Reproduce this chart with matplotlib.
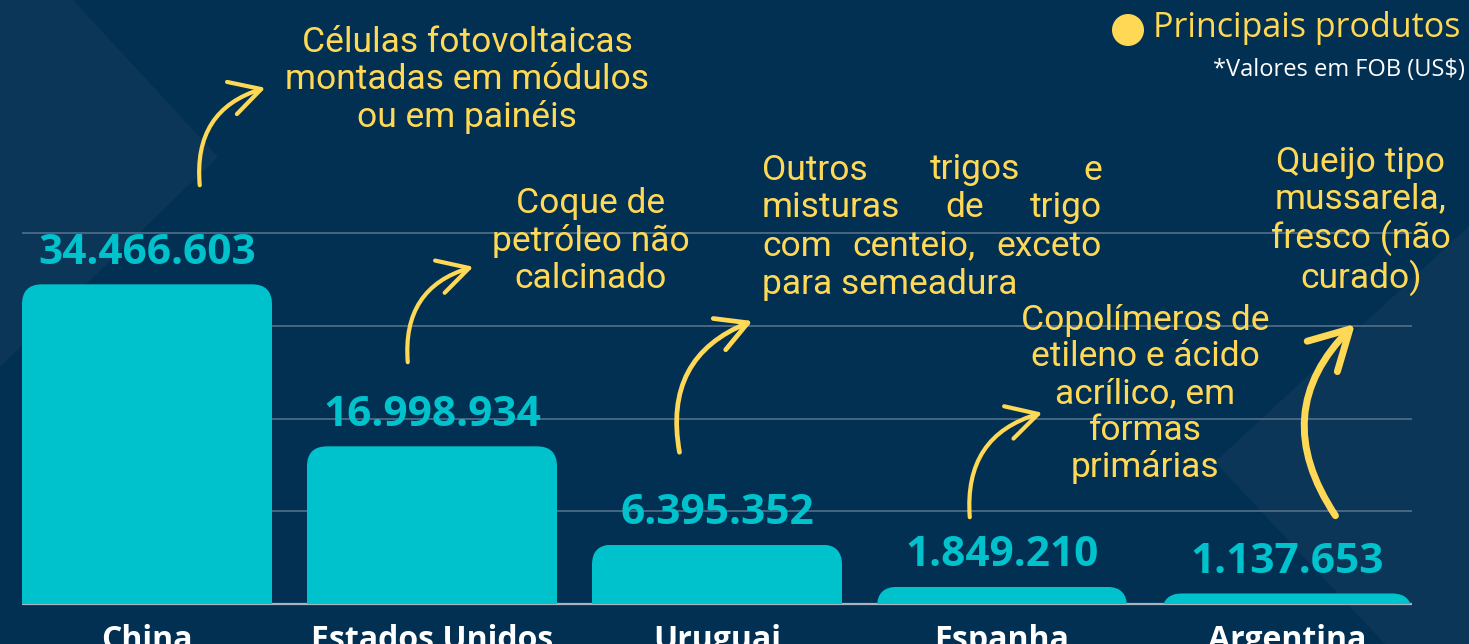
import matplotlib
matplotlib.use('Agg')
import matplotlib.pyplot as plt
from matplotlib.patches import FancyBboxPatch, Rectangle, Polygon, Circle, FancyArrowPatch

# Dados
paises = ['China', 'Estados Unidos', 'Uruguai', 'Espanha', 'Argentina']
valores = [34466603, 16998934, 6395352, 1849210, 1137653]
rotulos = ['34.466.603', '16.998.934', '6.395.352', '1.849.210', '1.137.653']
produtos = [
    'Células fotovoltaicas\nmontadas em módulos\nou em painéis',
    'Coque de\npetróleo não\ncalcinado',
    'Outros trigos e\nmisturas de trigo\ncom centeio, exceto\npara semeadura',
    'Copolímeros de\netileno e ácido\nacrílico, em\nformas\nprimárias',
    'Queijo tipo\nmussarela,\nfresco (não\ncurado)',
]
grade = [10e6, 20e6, 30e6, 40e6]

# Cores
FUNDO = '#023052'
FUNDO_CLARO = '#0b3657'
CIANO = '#00c2cc'
AMARELO = '#ffd955'
GRADE = '#536f8a'

W, H = 1469, 644
fig = plt.figure(figsize=(W / 100, H / 100), dpi=100, facecolor=FUNDO)


def fx(x):
    return x / W


def fy(y):
    return 1 - y / H


# triangulos claros do fundo
for pts in ([(0, 0), (73, 0), (218, 157), (0, 367)],
            [(W, 226), (1215, 462), (1385, H), (W, H)]):
    fig.add_artist(Polygon([(fx(a), fy(b)) for a, b in pts], closed=True,
                           transform=fig.transFigure, fc=FUNDO_CLARO, ec='none', zorder=0))

ax = fig.add_axes([0, 0, 1, 1])
ax.set_facecolor('none')
ax.axis('off')

px_x = 285.0          # pixels por categoria
px_y = 9.275e-6       # pixels por US$
base = 604            # linha de base (px a partir do topo)
ax.set_xlim(-147 / px_x, (W - 147) / px_x)
ax.set_ylim(-(H - base) / px_y, base / px_y)

bw = 250 / px_x
x0, x1 = -bw / 2, len(paises) - 1 + bw / 2

ax.hlines(grade, x0, x1, color=GRADE, lw=1.2, zorder=1)
ax.hlines(0, x0, x1, color='#a9b3bd', lw=1.6, zorder=1)

raio = 20
aspecto = (1 / px_y) / (1 / px_x)
for i, v in enumerate(valores):
    fundo_barra = -60 / px_y
    p = FancyBboxPatch((i - bw / 2, fundo_barra), bw, v - fundo_barra,
                       boxstyle=f'round,pad=0,rounding_size={raio / px_x}',
                       mutation_aspect=aspecto, fc=CIANO, ec='none', zorder=2)
    ax.add_patch(p)
    clip = Rectangle((i - bw / 2, 0), bw, v, transform=ax.transData)
    p.set_clip_path(clip)
    ax.annotate(rotulos[i], (i, v), xytext=(0, 22.5), textcoords='offset points',
                ha='center', va='center', color=CIANO, fontsize=30.5,
                fontweight='bold', family='Open Sans', zorder=3)
    ax.annotate(paises[i], (i, 0), xytext=(0, -14.5), textcoords='offset points',
                ha='center', va='top', color='white', fontsize=23,
                fontweight='bold', family='Open Sans', zorder=3)

# textos dos produtos
fonte_prod = dict(color=AMARELO, fontsize=25.5, family='Roboto', fontweight='normal',
                  linespacing=1.14)
fig.text(fx(467), fy(80), produtos[0], ha='center', va='center', **fonte_prod)
fig.text(fx(591), fy(241), produtos[1], ha='center', va='center', **fonte_prod)
fig.text(fx(1145), fy(394), produtos[3], ha='center', va='center', **fonte_prod)
fig.text(fx(1361), fy(221), produtos[4], ha='center', va='center', **fonte_prod)

# texto justificado
fig.canvas.draw()
rend = fig.canvas.get_renderer()
linhas = produtos[2].split('\n')
esq, dir_ = 762, 1102
for k, linha in enumerate(linhas):
    yl = fy(170 + k * 38)
    palavras = linha.split()
    if k == len(linhas) - 1:
        fig.text(fx(esq), yl, linha, ha='left', va='center', **fonte_prod)
        continue
    ts = [fig.text(0, yl, p, ha='left', va='center', **fonte_prod) for p in palavras]
    larg = [t.get_window_extent(rend).width for t in ts]
    gap = (dir_ - esq - sum(larg)) / (len(ts) - 1)
    xp = esq
    for t, w in zip(ts, larg):
        t.set_x(fx(xp))
        xp += w + gap

# setas
setas = [((200, 188), (268, 87), -0.42, 3.0),
         ((408, 365), (476, 266), -0.42, 3.0),
         ((680, 455), (755, 320), -0.42, 3.4),
         ((970, 520), (1045, 412), -0.42, 3.0),
         ((1337, 518), (1357, 322), -0.42, 5.0)]
for (a, b), (c, d), rad, lw in setas:
    grande = lw > 4
    arr = FancyArrowPatch((fx(a), fy(b)), (fx(c), fy(d)), transform=fig.transFigure,
                          connectionstyle=f'arc3,rad={rad}',
                          arrowstyle='->,head_length=1.0,head_width=0.55',
                          mutation_scale=28 if grande else 22,
                          color=AMARELO, lw=lw, capstyle='round', joinstyle='round')
    fig.add_artist(arr)

# legenda
fig.add_artist(Circle((1128 / 100, (H - 30) / 100), 0.16, transform=fig.dpi_scale_trans,
                      fc=AMARELO, ec='none'))
fig.text(fx(1153), fy(28), 'Principais produtos', ha='left', va='center',
         color=AMARELO, fontsize=24.5, family='Open Sans')
fig.text(fx(1465), fy(70), '*Valores em FOB (US$)', ha='right', va='center',
         color='white', fontsize=17, family='Open Sans')

fig.savefig('out.png', dpi=100, facecolor=FUNDO)
